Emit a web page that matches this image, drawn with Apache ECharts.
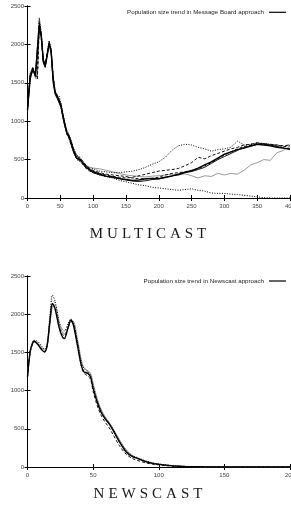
<!DOCTYPE html>
<html>
<head>
<meta charset="utf-8">
<script src="https://cdn.jsdelivr.net/npm/echarts@6/dist/echarts.min.js"></script>
<style>
  html, body { margin: 0; padding: 0; background: #fff; }
  #wrap { position: relative; width: 291px; height: 516px; overflow: hidden; }
  #c { position: absolute; left: 0; top: 0; width: 291px; height: 516px; }
  .cap { position: absolute; left: 0; width: 300px; text-align: center; font-family: "Liberation Serif", "DejaVu Serif", serif;
         font-size: 15px; line-height: 15px; letter-spacing: 4px; color: #1a1a1a; }
</style>
</head>
<body>
<div id="wrap">
  <div id="c"></div>
  <div class="cap" style="top:226px">MULTICAST</div>
  <div class="cap" style="top:486px">NEWSCAST</div>
</div>
<script>
(() => {
  "use strict";
  // --- MULTICAST (message board) runs ---
  const mbX = [0,4,8,12,15,18,21,24,27,30,33,36,39,42,45,48,51,54,57,60,63,66,70,75,80,85,90,95,100,
    110,120,130,140,150,160,170,180,190,200,210,220,230,240,250,260,270,280,290,300,310,320,330,340,350,360,370,380,390,400];
  const mbA = [1150,1550,1680,1600,1580,2250,2100,1800,1720,1850,2020,1920,1560,1380,1330,1310,1200,1070,950,850,810,740,620,520,500,450,400,370,345,
    310,285,275,255,240,230,235,250,255,250,270,285,310,335,355,390,430,470,520,570,600,630,650,680,700,690,680,660,650,640];
  const mbB = [1180,1600,1700,1580,1560,2200,2150,1760,1700,1880,2000,1880,1500,1350,1300,1290,1180,1040,930,830,790,720,600,510,510,440,390,360,330,
    300,280,265,250,235,220,215,225,240,250,265,290,300,330,345,370,400,450,500,540,580,620,660,670,700,710,690,670,650,630];
  const mbC = [1120,1580,1650,1620,1550,2300,2080,1780,1740,1900,2040,1900,1600,1400,1320,1300,1220,1080,960,860,800,750,640,540,520,470,420,380,360,
    330,310,300,290,280,260,250,250,255,270,300,320,330,340,360,380,420,460,510,560,600,640,670,690,710,700,690,690,670,680];
  const mbD = [1130,1620,1700,1560,1540,2350,2150,1820,1730,1870,2050,1950,1580,1360,1340,1330,1240,1100,980,880,830,760,650,560,530,470,420,390,380,
    350,340,330,330,340,350,370,400,440,470,530,620,680,700,690,660,640,610,630,640,660,740,690,700,720,710,700,680,660,700];
  const mbE = [1160,1590,1690,1610,1570,2280,2120,1790,1710,1860,2010,1910,1550,1390,1310,1280,1190,1060,940,840,780,700,610,510,480,430,380,350,330,
    320,300,280,270,260,270,290,310,330,350,360,370,385,420,460,530,510,550,580,610,640,660,690,700,720,700,700,690,680,690];
  const mbF = [1140,1610,1670,1590,1580,2330,2110,1770,1720,1890,2030,1930,1570,1370,1350,1300,1230,1090,970,870,820,750,640,550,520,470,420,400,390,
    380,360,340,320,300,290,280,275,285,290,300,310,300,315,290,260,290,280,320,300,320,310,360,430,460,500,490,590,620,670];
  const mbG = [1150,1570,1660,1600,1570,2240,2090,1780,1700,1860,2000,1900,1540,1370,1320,1290,1200,1060,940,830,790,710,600,500,480,430,380,350,330,
    300,280,260,230,210,190,170,160,140,130,120,110,100,110,120,100,90,65,60,60,50,45,35,25,15,5,0,0,0,0];

  // --- NEWSCAST runs ---
  const nwX = [0,2,4,5,8,11,13,15,17,19,21,24,26,28,31,33,35,38,41,43,46,48,50,53,56,59,62,65,70,75,80,85,90,95,100,105,110,115,120,130,140,150,160,170,180,190,200];
  const nwA = [1180,1507,1630,1650,1600,1530,1505,1595,1900,2140,2070,1830,1725,1680,1830,1920,1855,1595,1330,1245,1225,1180,1030,855,720,635,570,485,330,200,135,105,70,48,35,25,15,10,6,3,1,0,0,0,0,0,0];
  const nwB = [1180,1520,1640,1660,1640,1580,1540,1620,1960,2250,2170,1910,1820,1780,1880,1940,1890,1650,1380,1290,1250,1200,1060,880,740,650,580,500,350,220,150,115,80,55,40,30,20,12,8,4,2,1,0,0,0,0,0];
  const nwC = [1180,1500,1610,1640,1620,1560,1520,1580,1850,2100,2120,1900,1780,1740,1820,1900,1900,1680,1400,1300,1260,1230,1100,900,760,660,590,510,360,230,150,110,80,55,38,28,18,12,7,3,1,0,0,0,0,0,0];
  const nwD = [1180,1510,1620,1640,1610,1540,1510,1590,1890,2130,2080,1850,1750,1720,1830,1910,1870,1620,1320,1230,1190,1150,990,810,680,590,520,430,280,170,110,80,55,38,28,18,12,8,5,2,1,0,0,0,0,0,0];
  const nwE = [1180,1500,1620,1645,1630,1570,1530,1600,1920,2190,2140,1880,1790,1760,1860,1930,1880,1640,1360,1260,1240,1190,1050,870,730,640,570,490,340,210,140,100,70,50,36,26,16,10,6,3,1,0,0,0,0,0,0];

  const yTicks = [0, 500, 1000, 1500, 2000, 2500];
  const MB_NAME = "Population size trend in Message Board approach";
  const NW_NAME = "Population size trend in Newscast approach";

  const zip = (xs, ys) => xs.map((x, i) => [x, ys[i]]);
  const FONT = "Liberation Sans";
  const STY = {
    solid: { color: "#000", width: 1.4, type: "solid" },
    thin: { color: "#111", width: 1, type: "solid" },
    dash: { color: "#111", width: 1, type: [3, 2] },
    dot: { color: "#000", width: 1, type: [1, 1.5] },
    gray: { color: "#999", width: 1, type: "solid" },
    gdash: { color: "#aaa", width: 1, type: [2, 2] },
  };
  const line = (name, xi, yi, xs, ys, st, z, smooth) => ({
    name, type: "line", xAxisIndex: xi, yAxisIndex: yi, data: zip(xs, ys), symbol: "none",
    smooth: smooth || false, lineStyle: st, itemStyle: { color: st.color }, z, silent: true, animation: false,
  });

  const xAx = (gi, max, pos, showLab) => ({
    type: "value", gridIndex: gi, min: 0, max, interval: 50, position: pos,
    axisLine: { show: true, lineStyle: { color: "#000", width: 1 } },
    axisTick: { show: true, inside: true, length: 3, lineStyle: { color: "#000" } },
    axisLabel: { show: showLab, fontSize: 6, color: "#444", fontFamily: FONT, margin: 5, formatter: v => String(v) },
    splitLine: { show: false },
  });
  const yAx = (gi, pos, showLab) => ({
    type: "value", gridIndex: gi, min: yTicks[0], max: yTicks[yTicks.length - 1], interval: 500, position: pos,
    axisLine: { show: true, lineStyle: { color: "#000", width: 1 } },
    axisTick: { show: true, inside: true, length: 3, lineStyle: { color: "#000" } },
    axisLabel: { show: showLab, fontSize: 6, color: "#444", fontFamily: FONT, margin: 3.5, formatter: v => String(v) },
    splitLine: { show: false },
  });
  const leg = (top, name) => ({
    data: [name], top, right: 5, align: "right", itemWidth: 17, itemHeight: 6, itemGap: 0, padding: 0,
    selectedMode: false, icon: "path://M0,2.4L17,2.4L17,3.6L0,3.6Z",
    itemStyle: { color: "#000" },
    textStyle: { fontSize: 6.2, color: "#222", fontFamily: FONT, padding: [0, 0, 0, 0] },
  });

  const chart = echarts.init(document.getElementById("c"), null, { renderer: "canvas" });
  chart.setOption({
    animation: false,
    grid: [
      { left: 27.5, right: 1, top: 6, height: 192, outerBoundsMode: "none", containLabel: false },
      { left: 27.5, right: 1, top: 276, height: 191, outerBoundsMode: "none", containLabel: false },
    ],
    legend: [leg(9.3, MB_NAME), leg(278, NW_NAME)],
    xAxis: [xAx(0, 400, "bottom", true), xAx(0, 400, "top", false), xAx(1, 200, "bottom", true), xAx(1, 200, "top", false)],
    yAxis: [yAx(0, "left", true), yAx(0, "right", false), yAx(1, "left", true), yAx(1, "right", false)],
    series: [
      line("mbF", 0, 0, mbX, mbF, STY.gray, 2),
      line("mbG", 0, 0, mbX, mbG, STY.dot, 3),
      line("mbD", 0, 0, mbX, mbD, STY.dot, 3),
      line("mbE", 0, 0, mbX, mbE, STY.dash, 4),
      line("mbC", 0, 0, mbX, mbC, STY.dash, 4),
      line("mbB", 0, 0, mbX, mbB, STY.thin, 5),
      line(MB_NAME, 0, 0, mbX, mbA, STY.solid, 6),
      line("nwC", 2, 2, nwX, nwC, STY.gray, 2, 0.3),
      line("nwE", 2, 2, nwX, nwE, STY.gdash, 2, 0.3),
      line("nwD", 2, 2, nwX, nwD, STY.dash, 3, 0.3),
      line("nwB", 2, 2, nwX, nwB, STY.dot, 4, 0.3),
      line(NW_NAME, 2, 2, nwX, nwA, STY.solid, 6, 0.3),
    ],
  });
})();
</script>
</body>
</html>
